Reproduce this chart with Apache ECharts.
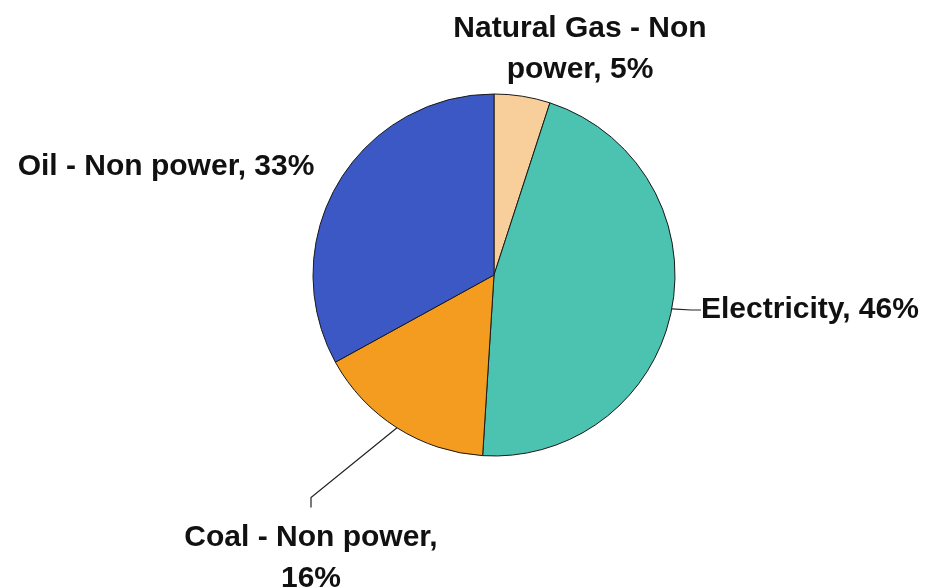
<!DOCTYPE html>
<html><head><meta charset="utf-8">
<script src="https://cdn.jsdelivr.net/npm/echarts@6/dist/echarts.min.js"></script>
<style>html,body{margin:0;padding:0;background:#fff}#c{width:931px;height:587px}</style>
</head><body><div id="c"></div>
<script>
const categories = ["Natural Gas - Non power", "Electricity", "Coal - Non power", "Oil - Non power"];
const values = [5, 46, 16, 33];
const labelTexts = ["Natural Gas - Non\npower, 5%", "Electricity, 46%", "Coal - Non power,\n16%", "Oil - Non power, 33%"];
const colors = ["#F8CF9B", "#4BC3B0", "#F39C1F", "#3C58C4"];
const labelPos = [[580, 49, 'center'], [701, 310, 'left'], [311, 558.5, 'center'], [166, 167, 'center']];
const labelPad = [[0,0,0,0], [0,0,0,0], [20,0,0,0], [0,0,0,0]];
const showLine = [false, true, true, false];

const chart = echarts.init(document.getElementById('c'), null, {renderer: 'canvas'});
chart.setOption({
  animation: false,
  backgroundColor: '#fff',
  series: [{
    type: 'pie',
    center: [494, 275],
    radius: 181,
    startAngle: 90,
    clockwise: true,
    data: categories.map((c, i) => ({
      name: c, value: values[i],
      itemStyle: {color: colors[i]},
      label: {formatter: labelTexts[i], padding: labelPad[i]},
      labelLine: {show: showLine[i]}
    })),
    itemStyle: {borderColor: '#1a1a1a', borderWidth: 1},
    label: {
      show: true, position: 'outside',
      fontFamily: 'Liberation Sans, Arial, sans-serif',
      fontWeight: 'bold', fontSize: 30, color: '#111',
      lineHeight: 41, align: 'center'
    },
    labelLine: {lineStyle: {color: '#222', width: 1.2}, length: 5, length2: 10},
    labelLayout: function (p) {
      const lp = labelPos[p.dataIndex];
      return {x: lp[0], y: lp[1], align: lp[2], verticalAlign: 'middle'};
    },
    emphasis: {disabled: true}
  }]
});
</script></body></html>
